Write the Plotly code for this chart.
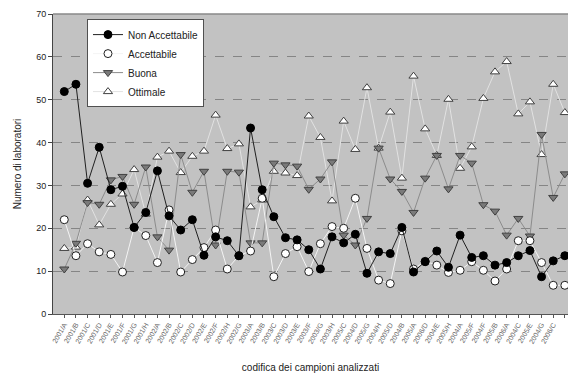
import plotly.graph_objects as go

labels = ["2001/A", "2001/B", "2001/C", "2001/D", "2001/E", "2001/F", "2001/G", "2001/H",
          "2002/A", "2002/B", "2002/C", "2002/D", "2002/E", "2002/F", "2002/H", "2002/G",
          "2003/A", "2003/B", "2003/C", "2003/D", "2003/E", "2003/F", "2003/G", "2003/H",
          "2005/C", "2004/D", "2005/G", "2004/H", "2005/D", "2004/B", "2005/A", "2006/D",
          "2004/E", "2005/H", "2004/A", "2005/F", "2004/F", "2005/B", "2006/A", "2004/C",
          "2005/E", "2004/G", "2006/C", "2006/B"]

non_accettabile = [51.9, 53.6, 30.5, 38.9, 29.0, 29.8, 20.2, 23.7, 33.4, 22.9, 19.6, 22.0,
                   13.7, 18.0, 17.1, 13.6, 43.4, 29.0, 22.7, 17.8, 17.3, 15.0, 10.5, 18.0,
                   16.6, 18.6, 9.5, 14.5, 14.1, 20.2, 9.8, 12.2, 14.7, 10.9, 18.4, 13.2,
                   13.6, 11.4, 12.0, 13.6, 14.8, 8.7, 12.4, 13.6]
accettabile = [22.0, 13.6, 16.4, 14.5, 13.9, 9.8, 20.2, 18.3, 12.0, 24.3, 9.8, 12.7,
               15.5, 19.6, 10.5, 13.6, 14.7, 27.0, 8.7, 14.1, 15.7, 9.9, 16.4, 20.4,
               20.0, 27.0, 15.3, 7.9, 7.1, 19.4, 10.5, 12.3, 11.4, 9.7, 10.2, 12.2,
               10.2, 7.7, 10.5, 17.1, 17.1, 12.0, 6.7, 6.7]
buona = [10.5, 16.5, 26.0, 25.6, 31.3, 32.1, 25.6, 34.3, 18.0, 14.9, 37.2, 28.4,
         33.3, 16.1, 33.3, 33.1, 16.6, 16.6, 35.2, 34.8, 34.5, 29.1, 31.5, 35.5,
         18.4, 16.1, 22.3, 38.7, 31.5, 28.6, 23.7, 31.7, 37.0, 29.2, 37.0, 35.2,
         25.5, 24.0, 18.4, 22.3, 18.2, 41.9, 27.2, 32.7]
ottimale = [15.3, 15.6, 26.6, 20.8, 25.6, 28.0, 33.7, 23.3, 36.6, 38.0, 33.0, 36.8,
            38.0, 46.4, 38.6, 39.7, 25.0, 26.6, 33.3, 32.9, 32.3, 46.2, 41.2, 26.4,
            45.0, 38.4, 52.8, 38.7, 47.1, 31.7, 55.5, 43.2, 37.0, 50.1, 34.0, 39.0,
            50.3, 56.5, 58.9, 46.7, 49.5, 37.2, 53.6, 47.0]

x = list(range(len(labels)))

fig = go.Figure()
fig.add_trace(go.Scatter(x=x, y=ottimale, name="Ottimale", mode="lines+markers",
                         line=dict(color="#e2e2e2", width=1),
                         marker=dict(symbol="triangle-up", size=8, color="white",
                                     line=dict(color="#404040", width=1))))
fig.add_trace(go.Scatter(x=x, y=buona, name="Buona", mode="lines+markers",
                         line=dict(color="#8c8c8c", width=1),
                         marker=dict(symbol="triangle-down", size=8, color="#7a7a7a",
                                     line=dict(color="#404040", width=1))))
fig.add_trace(go.Scatter(x=x, y=accettabile, name="Accettabile", mode="lines+markers",
                         line=dict(color="#f4f4f4", width=1),
                         marker=dict(symbol="circle", size=8, color="white",
                                     line=dict(color="#202020", width=1))))
fig.add_trace(go.Scatter(x=x, y=non_accettabile, name="Non Accettabile", mode="lines+markers",
                         line=dict(color="#202020", width=1),
                         marker=dict(symbol="circle", size=8, color="black",
                                     line=dict(color="black", width=1))))

fig.update_layout(
    width=568, height=374,
    margin=dict(l=53, r=0, t=14, b=60),
    paper_bgcolor="white", plot_bgcolor="#c2c2c2",
    font=dict(family="Liberation Sans, Arial, sans-serif", color="#222", size=10),
    showlegend=True,
    legend=dict(x=0.066, y=0.983, xanchor="left", yanchor="top",
                bgcolor="white", bordercolor="#505050", borderwidth=1,
                font=dict(size=10), traceorder="reversed", tracegroupgap=0,
                itemwidth=30),
    xaxis=dict(range=[-0.97, 43.27], tickmode="array", tickvals=x, ticktext=labels,
               tickangle=-60, tickfont=dict(size=7, color="#666"),
               ticks="outside", ticklen=3, tickcolor="#555", showgrid=False,
               showline=True, linecolor="#555", linewidth=1, zeroline=False,
               title=dict(text="codifica dei campioni analizzati", font=dict(size=10),
                          standoff=19)),
    yaxis=dict(range=[0, 70], dtick=10, ticks="outside", ticklen=4, tickcolor="#444",
               showline=True, linecolor="#444", linewidth=1, mirror=False,
               showgrid=True, gridcolor="#858585", griddash="dash", gridwidth=1,
               zeroline=False, tickfont=dict(size=9),
               title=dict(text="Numero di laboratori", font=dict(size=10), standoff=12)),
)
fig.add_shape(type="line", xref="paper", yref="paper", x0=0, x1=1, y0=1, y1=1,
              line=dict(color="#888", width=1.5))

fig.write_html("out.html", config={"displayModeBar": False},
               post_script="document.body.style.margin='0';document.body.style.overflow='hidden';")
